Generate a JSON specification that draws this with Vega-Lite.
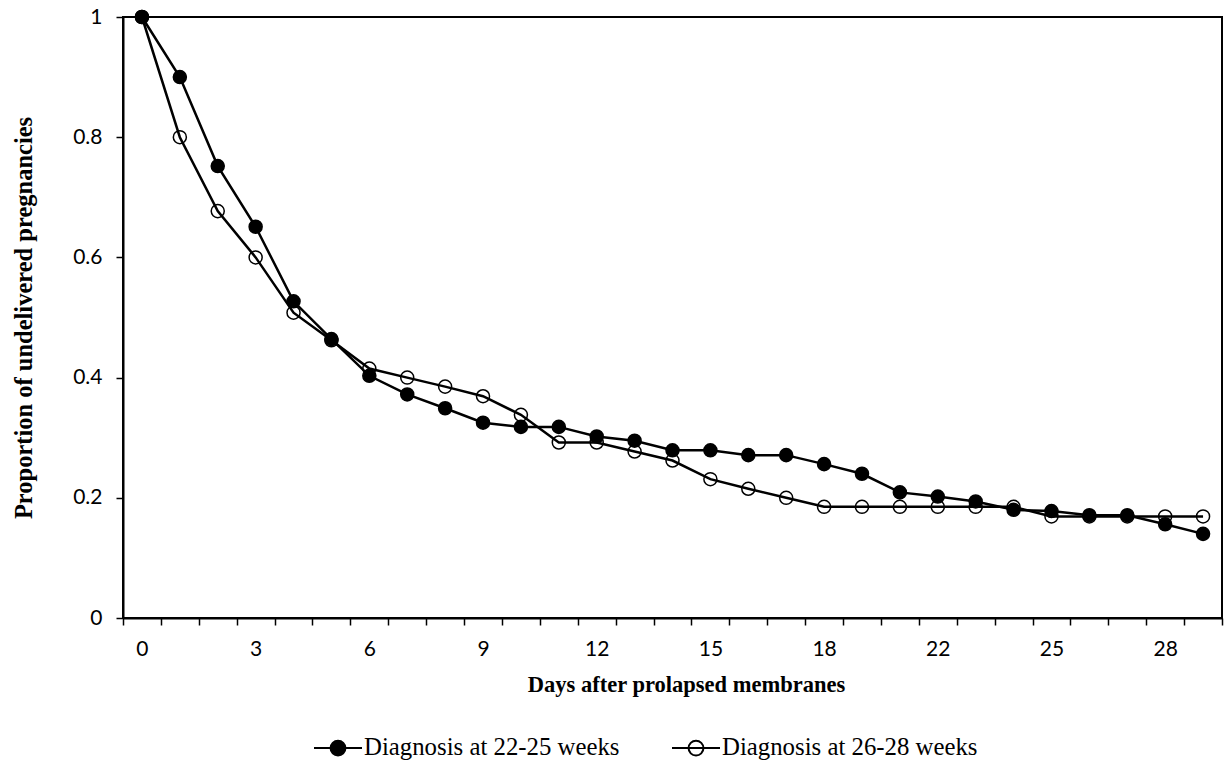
{
  "$schema": "https://vega.github.io/schema/vega-lite/v6.json",
  "width": 1099,
  "height": 601,
  "autosize": {"type": "none"},
  "padding": {"left": 123, "top": 17, "right": 6, "bottom": 143},
  "background": "white",
  "config": {
    "view": {"stroke": "black", "strokeWidth": 2},
    "axis": {"grid": false, "domainColor": "black", "domainWidth": 2, "tickColor": "black", "tickWidth": 1.5, "tickSize": 7, "labelColor": "black", "labelFont": "Lato", "labelFontSize": 21, "titleColor": "black", "titleFont": "Liberation Serif", "titleFontWeight": "bold", "titleFontSize": 23}
  },
  "data": {"values": [
    {"day": 0, "group": "Diagnosis at 26-28 weeks", "p": 1.0},
    {"day": 1, "group": "Diagnosis at 26-28 weeks", "p": 0.8},
    {"day": 2, "group": "Diagnosis at 26-28 weeks", "p": 0.677},
    {"day": 3, "group": "Diagnosis at 26-28 weeks", "p": 0.6},
    {"day": 4, "group": "Diagnosis at 26-28 weeks", "p": 0.508},
    {"day": 5, "group": "Diagnosis at 26-28 weeks", "p": 0.462},
    {"day": 6, "group": "Diagnosis at 26-28 weeks", "p": 0.415},
    {"day": 7, "group": "Diagnosis at 26-28 weeks", "p": 0.4},
    {"day": 8, "group": "Diagnosis at 26-28 weeks", "p": 0.385},
    {"day": 9, "group": "Diagnosis at 26-28 weeks", "p": 0.369},
    {"day": 10, "group": "Diagnosis at 26-28 weeks", "p": 0.338},
    {"day": 11, "group": "Diagnosis at 26-28 weeks", "p": 0.292},
    {"day": 12, "group": "Diagnosis at 26-28 weeks", "p": 0.292},
    {"day": 13, "group": "Diagnosis at 26-28 weeks", "p": 0.277},
    {"day": 14, "group": "Diagnosis at 26-28 weeks", "p": 0.262},
    {"day": 15, "group": "Diagnosis at 26-28 weeks", "p": 0.231},
    {"day": 16, "group": "Diagnosis at 26-28 weeks", "p": 0.215},
    {"day": 17, "group": "Diagnosis at 26-28 weeks", "p": 0.2},
    {"day": 18, "group": "Diagnosis at 26-28 weeks", "p": 0.185},
    {"day": 19, "group": "Diagnosis at 26-28 weeks", "p": 0.185},
    {"day": 20, "group": "Diagnosis at 26-28 weeks", "p": 0.185},
    {"day": 22, "group": "Diagnosis at 26-28 weeks", "p": 0.185},
    {"day": 23, "group": "Diagnosis at 26-28 weeks", "p": 0.185},
    {"day": 24, "group": "Diagnosis at 26-28 weeks", "p": 0.185},
    {"day": 25, "group": "Diagnosis at 26-28 weeks", "p": 0.169},
    {"day": 26, "group": "Diagnosis at 26-28 weeks", "p": 0.169},
    {"day": 27, "group": "Diagnosis at 26-28 weeks", "p": 0.169},
    {"day": 28, "group": "Diagnosis at 26-28 weeks", "p": 0.169},
    {"day": 29, "group": "Diagnosis at 26-28 weeks", "p": 0.169},
    {"day": 0, "group": "Diagnosis at 22-25 weeks", "p": 1.0},
    {"day": 1, "group": "Diagnosis at 22-25 weeks", "p": 0.9},
    {"day": 2, "group": "Diagnosis at 22-25 weeks", "p": 0.752},
    {"day": 3, "group": "Diagnosis at 22-25 weeks", "p": 0.651},
    {"day": 4, "group": "Diagnosis at 22-25 weeks", "p": 0.527},
    {"day": 5, "group": "Diagnosis at 22-25 weeks", "p": 0.464},
    {"day": 6, "group": "Diagnosis at 22-25 weeks", "p": 0.403},
    {"day": 7, "group": "Diagnosis at 22-25 weeks", "p": 0.372},
    {"day": 8, "group": "Diagnosis at 22-25 weeks", "p": 0.349},
    {"day": 9, "group": "Diagnosis at 22-25 weeks", "p": 0.325},
    {"day": 10, "group": "Diagnosis at 22-25 weeks", "p": 0.318},
    {"day": 11, "group": "Diagnosis at 22-25 weeks", "p": 0.318},
    {"day": 12, "group": "Diagnosis at 22-25 weeks", "p": 0.302},
    {"day": 13, "group": "Diagnosis at 22-25 weeks", "p": 0.295},
    {"day": 14, "group": "Diagnosis at 22-25 weeks", "p": 0.279},
    {"day": 15, "group": "Diagnosis at 22-25 weeks", "p": 0.279},
    {"day": 16, "group": "Diagnosis at 22-25 weeks", "p": 0.271},
    {"day": 17, "group": "Diagnosis at 22-25 weeks", "p": 0.271},
    {"day": 18, "group": "Diagnosis at 22-25 weeks", "p": 0.256},
    {"day": 19, "group": "Diagnosis at 22-25 weeks", "p": 0.24},
    {"day": 20, "group": "Diagnosis at 22-25 weeks", "p": 0.209},
    {"day": 22, "group": "Diagnosis at 22-25 weeks", "p": 0.202},
    {"day": 23, "group": "Diagnosis at 22-25 weeks", "p": 0.194},
    {"day": 24, "group": "Diagnosis at 22-25 weeks", "p": 0.18},
    {"day": 25, "group": "Diagnosis at 22-25 weeks", "p": 0.178},
    {"day": 26, "group": "Diagnosis at 22-25 weeks", "p": 0.171},
    {"day": 27, "group": "Diagnosis at 22-25 weeks", "p": 0.171},
    {"day": 28, "group": "Diagnosis at 22-25 weeks", "p": 0.156},
    {"day": 29, "group": "Diagnosis at 22-25 weeks", "p": 0.14}
  ]},
  "encoding": {
    "x": {
      "field": "day", "type": "ordinal", "bandPosition": 0.5,
      "scale": {"type": "band", "paddingInner": 0, "paddingOuter": 0},
      "axis": {
        "title": "Days after prolapsed membranes",
        "titleFontSize": 22.5,
        "titleX": 563,
        "labelAngle": 0,
        "tickBand": "extent",
        "labelPadding": 13,
        "titlePadding": 14,
        "labelExpr": "indexof([0,3,6,9,12,15,18,22,25,28], datum.value) >= 0 ? datum.label : ''"
      }
    },
    "y": {
      "field": "p", "type": "quantitative",
      "scale": {"domain": [0, 1], "nice": false, "zero": true},
      "axis": {
        "title": "Proportion of undelivered pregnancies",
        "titleFontSize": 24.5,
        "values": [0, 0.2, 0.4, 0.6, 0.8, 1],
        "format": "~g",
        "labelPadding": 14,
        "titlePadding": 36
      }
    }
  },
  "layer": [
    {
      "mark": {"type": "line", "color": "black", "strokeWidth": 2.5},
      "encoding": {"detail": {"field": "group"}}
    },
    {
      "mark": {"type": "point", "filled": true, "stroke": "black", "strokeWidth": 1.5, "size": 170, "opacity": 1, "shape": "circle"},
      "encoding": {
        "fill": {
          "field": "group", "type": "nominal",
          "scale": {"domain": ["Diagnosis at 22-25 weeks", "Diagnosis at 26-28 weeks"], "range": ["black", "transparent"]},
          "legend": {
            "title": null,
            "orient": "none",
            "direction": "horizontal",
            "legendX": 190,
            "legendY": 706,
            "padding": 0,
            "symbolType": "M -1 0 L 1 0 M -0.31 0 A 0.31 0.31 0 1 1 0.31 0 A 0.31 0.31 0 1 1 -0.31 0",
            "symbolSize": 2304,
            "symbolStrokeColor": "black",
            "symbolStrokeWidth": 2,
            "symbolOpacity": 1,
            "labelFont": "Liberation Serif",
            "labelFontSize": 24.8,
            "labelColor": "black",
            "labelLimit": 0,
            "labelOffset": 1,
            "columnPadding": 48
          }
        }
      }
    }
  ]
}
